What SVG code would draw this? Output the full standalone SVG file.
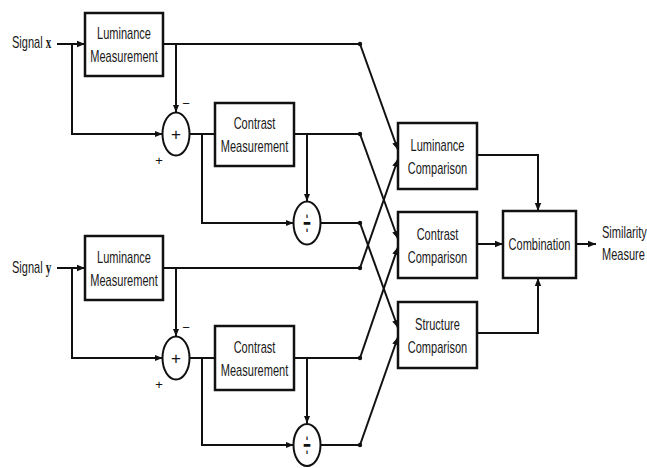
<svg xmlns="http://www.w3.org/2000/svg" width="647" height="468" viewBox="0 0 647 468">
<style>
.box{fill:#fff;stroke:#111;stroke-width:2.5}
.op{fill:#fff;stroke:#111;stroke-width:2}
.ln{fill:none;stroke:#111;stroke-width:2}
.dot{fill:#111}
.t{font-family:"Liberation Sans",Arial,sans-serif;font-size:16px;text-anchor:middle;fill:#1a1a1a}
.ts{font-family:"Liberation Sans",Arial,sans-serif;font-size:16px;text-anchor:start;fill:#1a1a1a}
.sym{font-family:"Liberation Sans",Arial,sans-serif;font-size:17px;text-anchor:middle;fill:#111}
.sg{font-family:"Liberation Sans",Arial,sans-serif;font-size:13px;text-anchor:middle;fill:#111}
</style>
<defs>
<marker id="ah" viewBox="0 0 10 10" refX="10" refY="5" markerWidth="8" markerHeight="8" markerUnits="userSpaceOnUse" orient="auto"><path d="M0,1 L10,5 L0,9 z" fill="#111"/></marker>
</defs>
<g id="connectors">
<line class="ln" x1="57" y1="44" x2="85" y2="44" marker-end="url(#ah)"/>
<polyline class="ln" points="72,44 72,134 162.5,134" marker-end="url(#ah)"/>
<line class="ln" x1="163" y1="44" x2="360" y2="44"/>
<line class="ln" x1="176" y1="44" x2="176" y2="112.5" marker-end="url(#ah)"/>
<line class="ln" x1="189.5" y1="134" x2="215" y2="134"/>
<polyline class="ln" points="202,134 202,223 293.5,223" marker-end="url(#ah)"/>
<line class="ln" x1="294" y1="134" x2="360" y2="134"/>
<line class="ln" x1="307" y1="134" x2="307" y2="201.5" marker-end="url(#ah)"/>
<line class="ln" x1="320.5" y1="223" x2="360" y2="223"/>
<line class="ln" x1="57" y1="268" x2="85" y2="268" marker-end="url(#ah)"/>
<polyline class="ln" points="72,268 72,358 162.5,358" marker-end="url(#ah)"/>
<line class="ln" x1="163" y1="268" x2="360" y2="268"/>
<line class="ln" x1="176" y1="268" x2="176" y2="336.5" marker-end="url(#ah)"/>
<line class="ln" x1="189.5" y1="358" x2="215" y2="358"/>
<polyline class="ln" points="202,358 202,445 293.5,445" marker-end="url(#ah)"/>
<line class="ln" x1="294" y1="358" x2="360" y2="358"/>
<line class="ln" x1="307" y1="358" x2="307" y2="423.5" marker-end="url(#ah)"/>
<line class="ln" x1="320.5" y1="445" x2="360" y2="445"/>
<circle class="dot" cx="360" cy="44" r="2.2"/>
<circle class="dot" cx="360" cy="134" r="2.2"/>
<circle class="dot" cx="360" cy="223" r="2.2"/>
<circle class="dot" cx="360" cy="268" r="2.2"/>
<circle class="dot" cx="360" cy="358" r="2.2"/>
<circle class="dot" cx="360" cy="445" r="2.2"/>
<line class="ln" x1="360" y1="44" x2="398" y2="150" marker-end="url(#ah)"/>
<line class="ln" x1="360" y1="268" x2="398" y2="159" marker-end="url(#ah)"/>
<line class="ln" x1="360" y1="134" x2="398" y2="239" marker-end="url(#ah)"/>
<line class="ln" x1="360" y1="358" x2="398" y2="247" marker-end="url(#ah)"/>
<line class="ln" x1="360" y1="223" x2="398" y2="328" marker-end="url(#ah)"/>
<line class="ln" x1="360" y1="445" x2="398" y2="337" marker-end="url(#ah)"/>
<polyline class="ln" points="477,155 538,155 538,211" marker-end="url(#ah)"/>
<line class="ln" x1="477" y1="244" x2="503" y2="244" marker-end="url(#ah)"/>
<polyline class="ln" points="477,333 538,333 538,278" marker-end="url(#ah)"/>
<line class="ln" x1="576" y1="244" x2="596" y2="244" marker-end="url(#ah)"/>
</g>
<g id="signal-x"><text class="ts" transform="translate(12,48) scale(0.69,1)">Signal <tspan font-family="'Liberation Serif',serif" font-weight="bold">x</tspan></text></g>
<g id="signal-y"><text class="ts" transform="translate(12,273) scale(0.69,1)">Signal <tspan font-family="'Liberation Serif',serif" font-weight="bold">y</tspan></text></g>
<g id="lum-meas-x"><rect class="box" x="85" y="13" width="78" height="63"/>
<text class="t" transform="translate(124,39) scale(0.69,1)">Luminance</text>
<text class="t" transform="translate(124,62) scale(0.69,1)">Measurement</text></g>
<g id="sum-x"><ellipse class="op" cx="176" cy="134" rx="13.5" ry="21.5"/>
<text class="sym" x="176" y="140">+</text>
<text class="sg" x="186" y="108">−</text>
<text class="sg" x="159" y="165">+</text></g>
<g id="con-meas-x"><rect class="box" x="215" y="103" width="79" height="63"/>
<text class="t" transform="translate(254.5,129) scale(0.69,1)">Contrast</text>
<text class="t" transform="translate(254.5,152) scale(0.69,1)">Measurement</text></g>
<g id="div-x"><ellipse class="op" cx="307" cy="223" rx="13.5" ry="21.5"/>
<text class="sym" transform="translate(307,223) scale(0.8,2.3)" y="5.5">÷</text></g>
<g id="lum-meas-y"><rect class="box" x="85" y="236" width="78" height="64"/>
<text class="t" transform="translate(124,262.5) scale(0.69,1)">Luminance</text>
<text class="t" transform="translate(124,285.5) scale(0.69,1)">Measurement</text></g>
<g id="sum-y"><ellipse class="op" cx="176" cy="358" rx="13.5" ry="21.5"/>
<text class="sym" x="176" y="364">+</text>
<text class="sg" x="186" y="332">−</text>
<text class="sg" x="159" y="389">+</text></g>
<g id="con-meas-y"><rect class="box" x="215" y="326" width="79" height="64"/>
<text class="t" transform="translate(254.5,352.5) scale(0.69,1)">Contrast</text>
<text class="t" transform="translate(254.5,375.5) scale(0.69,1)">Measurement</text></g>
<g id="div-y"><ellipse class="op" cx="307" cy="445" rx="13.5" ry="21"/>
<text class="sym" transform="translate(307,445) scale(0.8,2.3)" y="5.5">÷</text></g>
<g id="lum-comp"><rect class="box" x="398" y="123" width="79" height="66"/>
<text class="t" transform="translate(437.5,150.5) scale(0.69,1)">Luminance</text>
<text class="t" transform="translate(437.5,173.5) scale(0.69,1)">Comparison</text></g>
<g id="con-comp"><rect class="box" x="398" y="212" width="79" height="66"/>
<text class="t" transform="translate(437.5,239.5) scale(0.69,1)">Contrast</text>
<text class="t" transform="translate(437.5,262.5) scale(0.69,1)">Comparison</text></g>
<g id="str-comp"><rect class="box" x="398" y="302" width="79" height="66"/>
<text class="t" transform="translate(437.5,329.5) scale(0.69,1)">Structure</text>
<text class="t" transform="translate(437.5,352.5) scale(0.69,1)">Comparison</text></g>
<g id="combination"><rect class="box" x="503" y="211" width="73" height="67"/>
<text class="t" transform="translate(539.5,250) scale(0.69,1)">Combination</text></g>
<g id="output"><text class="ts" transform="translate(602,238) scale(0.69,1)">Similarity</text>
<text class="ts" transform="translate(602,260) scale(0.69,1)">Measure</text></g>
</svg>
